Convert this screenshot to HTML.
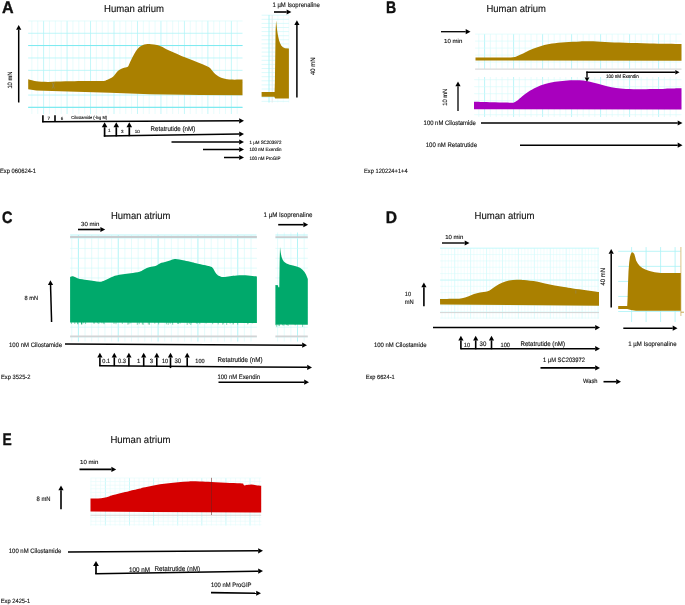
<!DOCTYPE html>
<html><head><meta charset="utf-8"><title>Figure</title>
<style>
html,body{margin:0;padding:0;background:#fff;}
body{width:685px;height:605px;overflow:hidden;font-family:"Liberation Sans",sans-serif;}
svg{display:block;will-change:transform;}
svg text{font-family:"Liberation Sans",sans-serif;text-rendering:geometricPrecision;}
</style></head><body>
<svg width="685" height="605" viewBox="0 0 685 605">
<rect width="685" height="605" fill="#fff"/>
<!-- Panel A -->
<text transform="translate(1.90 12.80) scale(0.09561 0.1)" font-size="168.0" fill="#111" font-weight="bold" stroke="#000" stroke-width="3.5">A</text>
<text transform="translate(104.00 12.20) scale(0.09367 0.1)" font-size="102.0" fill="#111" stroke="#111" stroke-width="1.3">Human atrium</text>
<g><line x1="31.87" y1="20.9" x2="31.87" y2="114" stroke="#d4fafa" stroke-width="0.55"/><line x1="37.74" y1="20.9" x2="37.74" y2="114" stroke="#d4fafa" stroke-width="0.55"/><line x1="43.60" y1="20.9" x2="43.60" y2="114" stroke="#b0f4f7" stroke-width="0.75"/><line x1="49.47" y1="20.9" x2="49.47" y2="114" stroke="#d4fafa" stroke-width="0.55"/><line x1="55.34" y1="20.9" x2="55.34" y2="114" stroke="#d4fafa" stroke-width="0.55"/><line x1="61.20" y1="20.9" x2="61.20" y2="114" stroke="#d4fafa" stroke-width="0.55"/><line x1="67.07" y1="20.9" x2="67.07" y2="114" stroke="#b0f4f7" stroke-width="0.75"/><line x1="72.94" y1="20.9" x2="72.94" y2="114" stroke="#d4fafa" stroke-width="0.55"/><line x1="78.81" y1="20.9" x2="78.81" y2="114" stroke="#d4fafa" stroke-width="0.55"/><line x1="84.67" y1="20.9" x2="84.67" y2="114" stroke="#d4fafa" stroke-width="0.55"/><line x1="90.54" y1="20.9" x2="90.54" y2="114" stroke="#b0f4f7" stroke-width="0.75"/><line x1="96.41" y1="20.9" x2="96.41" y2="114" stroke="#d4fafa" stroke-width="0.55"/><line x1="102.27" y1="20.9" x2="102.27" y2="114" stroke="#d4fafa" stroke-width="0.55"/><line x1="108.14" y1="20.9" x2="108.14" y2="114" stroke="#d4fafa" stroke-width="0.55"/><line x1="114.01" y1="20.9" x2="114.01" y2="114" stroke="#b0f4f7" stroke-width="0.75"/><line x1="119.88" y1="20.9" x2="119.88" y2="114" stroke="#d4fafa" stroke-width="0.55"/><line x1="125.74" y1="20.9" x2="125.74" y2="114" stroke="#d4fafa" stroke-width="0.55"/><line x1="131.61" y1="20.9" x2="131.61" y2="114" stroke="#d4fafa" stroke-width="0.55"/><line x1="137.48" y1="20.9" x2="137.48" y2="114" stroke="#b0f4f7" stroke-width="0.75"/><line x1="143.34" y1="20.9" x2="143.34" y2="114" stroke="#d4fafa" stroke-width="0.55"/><line x1="149.21" y1="20.9" x2="149.21" y2="114" stroke="#d4fafa" stroke-width="0.55"/><line x1="155.08" y1="20.9" x2="155.08" y2="114" stroke="#d4fafa" stroke-width="0.55"/><line x1="160.94" y1="20.9" x2="160.94" y2="114" stroke="#b0f4f7" stroke-width="0.75"/><line x1="166.81" y1="20.9" x2="166.81" y2="114" stroke="#d4fafa" stroke-width="0.55"/><line x1="172.68" y1="20.9" x2="172.68" y2="114" stroke="#d4fafa" stroke-width="0.55"/><line x1="178.54" y1="20.9" x2="178.54" y2="114" stroke="#d4fafa" stroke-width="0.55"/><line x1="184.41" y1="20.9" x2="184.41" y2="114" stroke="#b0f4f7" stroke-width="0.75"/><line x1="190.28" y1="20.9" x2="190.28" y2="114" stroke="#d4fafa" stroke-width="0.55"/><line x1="196.15" y1="20.9" x2="196.15" y2="114" stroke="#d4fafa" stroke-width="0.55"/><line x1="202.01" y1="20.9" x2="202.01" y2="114" stroke="#d4fafa" stroke-width="0.55"/><line x1="207.88" y1="20.9" x2="207.88" y2="114" stroke="#b0f4f7" stroke-width="0.75"/><line x1="213.75" y1="20.9" x2="213.75" y2="114" stroke="#d4fafa" stroke-width="0.55"/><line x1="219.61" y1="20.9" x2="219.61" y2="114" stroke="#d4fafa" stroke-width="0.55"/><line x1="225.48" y1="20.9" x2="225.48" y2="114" stroke="#d4fafa" stroke-width="0.55"/><line x1="231.35" y1="20.9" x2="231.35" y2="114" stroke="#b0f4f7" stroke-width="0.75"/><line x1="237.21" y1="20.9" x2="237.21" y2="114" stroke="#d4fafa" stroke-width="0.55"/><line x1="28.2" y1="33.26" x2="242.5" y2="33.26" stroke="#b0f4f7" stroke-width="0.8"/><line x1="28.2" y1="45.62" x2="242.5" y2="45.62" stroke="#b0f4f7" stroke-width="0.8"/><line x1="28.2" y1="57.98" x2="242.5" y2="57.98" stroke="#b0f4f7" stroke-width="0.8"/><line x1="28.2" y1="70.34" x2="242.5" y2="70.34" stroke="#b0f4f7" stroke-width="0.8"/><line x1="28.2" y1="82.70" x2="242.5" y2="82.70" stroke="#b0f4f7" stroke-width="0.8"/><line x1="28.2" y1="95.06" x2="242.5" y2="95.06" stroke="#b0f4f7" stroke-width="0.8"/><line x1="28.2" y1="107.42" x2="242.5" y2="107.42" stroke="#b0f4f7" stroke-width="0.8"/><line x1="28.2" y1="45.5" x2="242.5" y2="45.5" stroke="#7feaf0" stroke-width="1.2"/><line x1="28.2" y1="107.4" x2="242.5" y2="107.4" stroke="#7feaf0" stroke-width="1.2"/></g>
<line x1="28.20" y1="21.00" x2="242.50" y2="21.00" stroke="#d4fafa" stroke-width="0.6"/>
<path d="M28.20,79.30 C28.83,79.47 30.65,79.98 32.00,80.30 C33.35,80.62 33.63,80.93 36.30,81.20 C38.97,81.47 43.13,81.88 48.00,81.90 C52.87,81.92 58.50,81.45 65.50,81.30 C72.50,81.15 83.68,81.05 90.00,81.00 C96.32,80.95 100.73,81.12 103.40,81.00 C106.07,80.88 105.07,80.63 106.00,80.30 C106.93,79.97 108.00,79.45 109.00,79.00 C110.00,78.55 111.00,78.35 112.00,77.60 C113.00,76.85 114.07,75.57 115.00,74.50 C115.93,73.43 116.77,72.03 117.60,71.20 C118.43,70.37 119.27,69.95 120.00,69.50 C120.73,69.05 121.17,68.83 122.00,68.50 C122.83,68.17 124.03,67.80 125.00,67.50 C125.97,67.20 127.05,67.37 127.80,66.70 C128.55,66.03 128.75,65.02 129.50,63.50 C130.25,61.98 131.47,59.27 132.30,57.60 C133.13,55.93 133.73,54.82 134.50,53.50 C135.27,52.18 136.07,50.78 136.90,49.70 C137.73,48.62 138.57,47.75 139.50,47.00 C140.43,46.25 141.42,45.65 142.50,45.20 C143.58,44.75 144.87,44.50 146.00,44.30 C147.13,44.10 147.97,43.95 149.30,44.00 C150.63,44.05 152.12,44.22 154.00,44.60 C155.88,44.98 157.98,45.27 160.60,46.30 C163.22,47.33 165.55,48.92 169.70,50.80 C173.85,52.68 180.45,55.52 185.50,57.60 C190.55,59.68 196.25,61.78 200.00,63.30 C203.75,64.82 206.25,65.83 208.00,66.70 C209.75,67.57 209.75,67.78 210.50,68.50 C211.25,69.22 211.67,70.05 212.50,71.00 C213.33,71.95 214.53,73.33 215.50,74.20 C216.47,75.07 217.22,75.58 218.30,76.20 C219.38,76.82 220.72,77.43 222.00,77.90 C223.28,78.37 224.55,78.72 226.00,79.00 C227.45,79.28 227.95,79.50 230.70,79.60 C233.45,79.70 240.53,79.60 242.50,79.60 L242.5,95.2 L200.0,95.0 L150.0,94.2 L110.0,92.8 L68.0,91.4 L36.3,90.4 L28.2,89.2Z" fill="#aa8000"/>
<path d="M52.2,82.5 L54.4,88.5 M54.4,82.5 L52.2,88.5" stroke="#8d8a78" stroke-width="0.5" fill="none"/>
<line x1="18.70" y1="102.50" x2="18.70" y2="29.80" stroke="#000" stroke-width="1.5"/>
<path d="M18.70,25.00 L21.30,29.80 L16.10,29.80Z" fill="#000"/>
<text transform="translate(11.80 88.60) rotate(-90) scale(0.09176 0.1)" font-size="62.9" fill="#111" stroke="#111" stroke-width="1.3">10 mN</text>
<g><line x1="277.80" y1="15" x2="277.80" y2="102.6" stroke="#e2fcfc" stroke-width="0.5"/><line x1="283.30" y1="15" x2="283.30" y2="102.6" stroke="#e2fcfc" stroke-width="0.5"/><line x1="288.80" y1="15" x2="288.80" y2="102.6" stroke="#e2fcfc" stroke-width="0.5"/><line x1="261.6" y1="15.20" x2="288.9" y2="15.20" stroke="#c4f7f8" stroke-width="0.6"/><line x1="261.6" y1="19.30" x2="288.9" y2="19.30" stroke="#c4f7f8" stroke-width="0.6"/><line x1="261.6" y1="23.40" x2="288.9" y2="23.40" stroke="#c4f7f8" stroke-width="0.6"/><line x1="261.6" y1="27.50" x2="288.9" y2="27.50" stroke="#c4f7f8" stroke-width="0.6"/><line x1="261.6" y1="31.60" x2="288.9" y2="31.60" stroke="#c4f7f8" stroke-width="0.6"/><line x1="261.6" y1="35.70" x2="288.9" y2="35.70" stroke="#c4f7f8" stroke-width="0.6"/><line x1="261.6" y1="39.80" x2="288.9" y2="39.80" stroke="#c4f7f8" stroke-width="0.6"/><line x1="261.6" y1="43.90" x2="288.9" y2="43.90" stroke="#c4f7f8" stroke-width="0.6"/><line x1="261.6" y1="48.00" x2="288.9" y2="48.00" stroke="#c4f7f8" stroke-width="0.6"/><line x1="261.6" y1="52.10" x2="288.9" y2="52.10" stroke="#c4f7f8" stroke-width="0.6"/><line x1="261.6" y1="56.20" x2="288.9" y2="56.20" stroke="#c4f7f8" stroke-width="0.6"/><line x1="261.6" y1="60.30" x2="288.9" y2="60.30" stroke="#c4f7f8" stroke-width="0.6"/><line x1="261.6" y1="64.40" x2="288.9" y2="64.40" stroke="#c4f7f8" stroke-width="0.6"/><line x1="261.6" y1="68.50" x2="288.9" y2="68.50" stroke="#c4f7f8" stroke-width="0.6"/><line x1="261.6" y1="72.60" x2="288.9" y2="72.60" stroke="#c4f7f8" stroke-width="0.6"/><line x1="261.6" y1="76.70" x2="288.9" y2="76.70" stroke="#c4f7f8" stroke-width="0.6"/><line x1="261.6" y1="80.80" x2="288.9" y2="80.80" stroke="#c4f7f8" stroke-width="0.6"/><line x1="261.6" y1="84.90" x2="288.9" y2="84.90" stroke="#c4f7f8" stroke-width="0.6"/><line x1="261.6" y1="89.00" x2="288.9" y2="89.00" stroke="#c4f7f8" stroke-width="0.6"/><line x1="261.6" y1="93.10" x2="288.9" y2="93.10" stroke="#c4f7f8" stroke-width="0.6"/><line x1="261.6" y1="97.20" x2="288.9" y2="97.20" stroke="#c4f7f8" stroke-width="0.6"/><line x1="261.6" y1="101.30" x2="288.9" y2="101.30" stroke="#c4f7f8" stroke-width="0.6"/></g>
<line x1="269.00" y1="15.00" x2="269.00" y2="102.60" stroke="#a9f3f6" stroke-width="0.9"/>
<line x1="272.20" y1="15.00" x2="272.20" y2="102.60" stroke="#e2e8e9" stroke-width="0.9"/>
<path d="M261.6,92.1 L274.6,92.1 L274.9,82.0 L275.2,60.0 L275.6,30.0 L276.1,20.6 L276.6,25.0 L277.1,30.0 L277.7,34.0 L278.3,37.0 L279.1,40.5 L280.1,43.3 L281.4,45.7 L283.0,47.3 L285.0,48.2 L288.9,48.5 L288.9,98.4 L275.2,98.4 L274.3,96.8 L261.6,96.8Z" fill="#aa8000"/>
<text transform="translate(272.50 6.70) scale(0.09173 0.1)" font-size="64.7" fill="#111" stroke="#111" stroke-width="1.3">1 µM Isoprenaline</text>
<line x1="274.00" y1="12.00" x2="286.60" y2="12.00" stroke="#000" stroke-width="1.6"/>
<path d="M291.40,12.00 L286.60,14.60 L286.60,9.40Z" fill="#000"/>
<line x1="296.90" y1="97.50" x2="296.90" y2="25.00" stroke="#000" stroke-width="1.5"/>
<path d="M296.90,20.20 L299.50,25.00 L294.30,25.00Z" fill="#000"/>
<text transform="translate(315.20 75.00) rotate(-90) scale(0.09169 0.1)" font-size="64.8" fill="#111" stroke="#111" stroke-width="1.3">40 mN</text>
<line x1="42.90" y1="115.20" x2="42.90" y2="122.20" stroke="#000" stroke-width="1.6"/>
<line x1="55.00" y1="115.20" x2="55.00" y2="122.00" stroke="#000" stroke-width="1.6"/>
<line x1="42.10" y1="121.80" x2="239.20" y2="120.82" stroke="#000" stroke-width="1.5"/>
<path d="M244.00,120.80 L239.21,123.42 L239.19,118.22Z" fill="#000"/>
<text transform="translate(47.50 119.50) scale(0.10000 0.1)" font-size="45.0" fill="#111" stroke="#111" stroke-width="1.3">7</text>
<text transform="translate(60.70 119.50) scale(0.10000 0.1)" font-size="45.0" fill="#111" stroke="#111" stroke-width="1.3">6</text>
<text transform="translate(71.30 119.20) scale(0.09178 0.1)" font-size="43.6" fill="#111" stroke="#111" stroke-width="1.3">Cilostamide (-log M)</text>
<line x1="104.60" y1="136.60" x2="104.60" y2="127.20" stroke="#000" stroke-width="1.7"/>
<path d="M104.60,122.20 L107.40,127.20 L101.80,127.20Z" fill="#000"/>
<line x1="116.30" y1="136.40" x2="116.30" y2="127.20" stroke="#000" stroke-width="1.7"/>
<path d="M116.30,122.20 L119.10,127.20 L113.50,127.20Z" fill="#000"/>
<line x1="129.30" y1="136.20" x2="129.30" y2="127.20" stroke="#000" stroke-width="1.7"/>
<path d="M129.30,122.20 L132.10,127.20 L126.50,127.20Z" fill="#000"/>
<line x1="103.80" y1="136.10" x2="239.20" y2="134.07" stroke="#000" stroke-width="1.5"/>
<path d="M244.00,134.00 L239.24,136.67 L239.16,131.47Z" fill="#000"/>
<text transform="translate(107.90 132.10) scale(0.10000 0.1)" font-size="45.0" fill="#111" stroke="#111" stroke-width="1.3">1</text>
<text transform="translate(120.90 132.90) scale(0.10000 0.1)" font-size="45.0" fill="#111" stroke="#111" stroke-width="1.3">3</text>
<text transform="translate(134.80 132.90) scale(0.10000 0.1)" font-size="45.0" fill="#111" stroke="#111" stroke-width="1.3">10</text>
<text transform="translate(150.60 131.40) scale(0.09173 0.1)" font-size="67.3" fill="#111" stroke="#111" stroke-width="1.3">Retatrutide (nM)</text>
<line x1="171.50" y1="142.00" x2="239.20" y2="142.00" stroke="#000" stroke-width="1.5"/>
<path d="M244.00,142.00 L239.20,144.60 L239.20,139.40Z" fill="#000"/>
<text transform="translate(249.50 143.60) scale(0.09180 0.1)" font-size="48.1" fill="#111" stroke="#111" stroke-width="1.3">1 µM SC203972</text>
<line x1="203.00" y1="149.50" x2="239.20" y2="149.50" stroke="#000" stroke-width="1.5"/>
<path d="M244.00,149.50 L239.20,152.10 L239.20,146.90Z" fill="#000"/>
<text transform="translate(249.50 151.20) scale(0.09167 0.1)" font-size="48.3" fill="#111" stroke="#111" stroke-width="1.3">100 nM Exendin</text>
<line x1="224.00" y1="157.50" x2="239.20" y2="157.50" stroke="#000" stroke-width="1.5"/>
<path d="M244.00,157.50 L239.20,160.10 L239.20,154.90Z" fill="#000"/>
<text transform="translate(249.50 159.70) scale(0.09179 0.1)" font-size="49.0" fill="#111" stroke="#111" stroke-width="1.3">100 nM ProGIP</text>
<text transform="translate(0.00 173.40) scale(0.09176 0.1)" font-size="63.0" fill="#111" stroke="#111" stroke-width="1.3">Exp 060624-1</text>
<!-- Panel B -->
<text transform="translate(386.00 12.80) scale(0.08407 0.1)" font-size="168.0" fill="#111" font-weight="bold" stroke="#000" stroke-width="3.5">B</text>
<text transform="translate(486.50 11.60) scale(0.09289 0.1)" font-size="102.0" fill="#111" stroke="#111" stroke-width="1.3">Human atrium</text>
<line x1="441.00" y1="31.70" x2="465.70" y2="31.70" stroke="#000" stroke-width="1.3"/>
<path d="M470.50,31.70 L465.70,34.30 L465.70,29.10Z" fill="#000"/>
<text transform="translate(444.00 43.00) scale(0.10334 0.1)" font-size="59.0" fill="#111" stroke="#111" stroke-width="1.3">10 min</text>
<g><line x1="478.80" y1="34.1" x2="478.80" y2="69" stroke="#d4fafa" stroke-width="0.55"/><line x1="484.60" y1="34.1" x2="484.60" y2="69" stroke="#a9f3f6" stroke-width="0.8"/><line x1="490.40" y1="34.1" x2="490.40" y2="69" stroke="#d4fafa" stroke-width="0.55"/><line x1="496.20" y1="34.1" x2="496.20" y2="69" stroke="#d4fafa" stroke-width="0.55"/><line x1="502.00" y1="34.1" x2="502.00" y2="69" stroke="#d4fafa" stroke-width="0.55"/><line x1="507.80" y1="34.1" x2="507.80" y2="69" stroke="#d4fafa" stroke-width="0.55"/><line x1="513.60" y1="34.1" x2="513.60" y2="69" stroke="#a9f3f6" stroke-width="0.8"/><line x1="519.40" y1="34.1" x2="519.40" y2="69" stroke="#d4fafa" stroke-width="0.55"/><line x1="525.20" y1="34.1" x2="525.20" y2="69" stroke="#d4fafa" stroke-width="0.55"/><line x1="531.00" y1="34.1" x2="531.00" y2="69" stroke="#d4fafa" stroke-width="0.55"/><line x1="536.80" y1="34.1" x2="536.80" y2="69" stroke="#d4fafa" stroke-width="0.55"/><line x1="542.60" y1="34.1" x2="542.60" y2="69" stroke="#a9f3f6" stroke-width="0.8"/><line x1="548.40" y1="34.1" x2="548.40" y2="69" stroke="#d4fafa" stroke-width="0.55"/><line x1="554.20" y1="34.1" x2="554.20" y2="69" stroke="#d4fafa" stroke-width="0.55"/><line x1="560.00" y1="34.1" x2="560.00" y2="69" stroke="#d4fafa" stroke-width="0.55"/><line x1="565.80" y1="34.1" x2="565.80" y2="69" stroke="#d4fafa" stroke-width="0.55"/><line x1="571.60" y1="34.1" x2="571.60" y2="69" stroke="#a9f3f6" stroke-width="0.8"/><line x1="577.40" y1="34.1" x2="577.40" y2="69" stroke="#d4fafa" stroke-width="0.55"/><line x1="583.20" y1="34.1" x2="583.20" y2="69" stroke="#d4fafa" stroke-width="0.55"/><line x1="589.00" y1="34.1" x2="589.00" y2="69" stroke="#d4fafa" stroke-width="0.55"/><line x1="594.80" y1="34.1" x2="594.80" y2="69" stroke="#d4fafa" stroke-width="0.55"/><line x1="600.60" y1="34.1" x2="600.60" y2="69" stroke="#a9f3f6" stroke-width="0.8"/><line x1="606.40" y1="34.1" x2="606.40" y2="69" stroke="#d4fafa" stroke-width="0.55"/><line x1="612.20" y1="34.1" x2="612.20" y2="69" stroke="#d4fafa" stroke-width="0.55"/><line x1="618.00" y1="34.1" x2="618.00" y2="69" stroke="#d4fafa" stroke-width="0.55"/><line x1="623.80" y1="34.1" x2="623.80" y2="69" stroke="#d4fafa" stroke-width="0.55"/><line x1="629.60" y1="34.1" x2="629.60" y2="69" stroke="#a9f3f6" stroke-width="0.8"/><line x1="635.40" y1="34.1" x2="635.40" y2="69" stroke="#d4fafa" stroke-width="0.55"/><line x1="641.20" y1="34.1" x2="641.20" y2="69" stroke="#d4fafa" stroke-width="0.55"/><line x1="647.00" y1="34.1" x2="647.00" y2="69" stroke="#d4fafa" stroke-width="0.55"/><line x1="652.80" y1="34.1" x2="652.80" y2="69" stroke="#d4fafa" stroke-width="0.55"/><line x1="658.60" y1="34.1" x2="658.60" y2="69" stroke="#a9f3f6" stroke-width="0.8"/><line x1="664.40" y1="34.1" x2="664.40" y2="69" stroke="#d4fafa" stroke-width="0.55"/><line x1="670.20" y1="34.1" x2="670.20" y2="69" stroke="#d4fafa" stroke-width="0.55"/><line x1="676.00" y1="34.1" x2="676.00" y2="69" stroke="#d4fafa" stroke-width="0.55"/><line x1="475.1" y1="34.10" x2="681.5" y2="34.10" stroke="#d4fafa" stroke-width="0.6"/><line x1="475.1" y1="41.10" x2="681.5" y2="41.10" stroke="#d4fafa" stroke-width="0.6"/><line x1="475.1" y1="48.10" x2="681.5" y2="48.10" stroke="#d4fafa" stroke-width="0.6"/><line x1="475.1" y1="55.10" x2="681.5" y2="55.10" stroke="#d4fafa" stroke-width="0.6"/><line x1="475.1" y1="62.10" x2="681.5" y2="62.10" stroke="#d4fafa" stroke-width="0.6"/></g>
<line x1="475.10" y1="69.20" x2="681.50" y2="69.20" stroke="#dadada" stroke-width="1.2"/>
<path d="M475.50,57.50 C479.58,57.52 493.75,57.63 500.00,57.60 C506.25,57.57 510.00,57.60 513.00,57.30 C516.00,57.00 516.00,56.60 518.00,55.80 C520.00,55.00 522.50,53.67 525.00,52.50 C527.50,51.33 530.17,49.93 533.00,48.80 C535.83,47.67 538.83,46.57 542.00,45.70 C545.17,44.83 548.17,44.18 552.00,43.60 C555.83,43.02 560.33,42.57 565.00,42.20 C569.67,41.83 575.83,41.55 580.00,41.40 C584.17,41.25 585.83,41.20 590.00,41.30 C594.17,41.40 599.17,41.75 605.00,42.00 C610.83,42.25 617.50,42.55 625.00,42.80 C632.50,43.05 640.58,43.30 650.00,43.50 C659.42,43.70 676.25,43.92 681.50,44.00 L681.5,60.8 L475.5,60.5Z" fill="#aa8000"/>
<g><line x1="478.80" y1="77" x2="478.80" y2="117" stroke="#d4fafa" stroke-width="0.55"/><line x1="484.60" y1="77" x2="484.60" y2="117" stroke="#a9f3f6" stroke-width="0.8"/><line x1="490.40" y1="77" x2="490.40" y2="117" stroke="#d4fafa" stroke-width="0.55"/><line x1="496.20" y1="77" x2="496.20" y2="117" stroke="#d4fafa" stroke-width="0.55"/><line x1="502.00" y1="77" x2="502.00" y2="117" stroke="#d4fafa" stroke-width="0.55"/><line x1="507.80" y1="77" x2="507.80" y2="117" stroke="#d4fafa" stroke-width="0.55"/><line x1="513.60" y1="77" x2="513.60" y2="117" stroke="#a9f3f6" stroke-width="0.8"/><line x1="519.40" y1="77" x2="519.40" y2="117" stroke="#d4fafa" stroke-width="0.55"/><line x1="525.20" y1="77" x2="525.20" y2="117" stroke="#d4fafa" stroke-width="0.55"/><line x1="531.00" y1="77" x2="531.00" y2="117" stroke="#d4fafa" stroke-width="0.55"/><line x1="536.80" y1="77" x2="536.80" y2="117" stroke="#d4fafa" stroke-width="0.55"/><line x1="542.60" y1="77" x2="542.60" y2="117" stroke="#a9f3f6" stroke-width="0.8"/><line x1="548.40" y1="77" x2="548.40" y2="117" stroke="#d4fafa" stroke-width="0.55"/><line x1="554.20" y1="77" x2="554.20" y2="117" stroke="#d4fafa" stroke-width="0.55"/><line x1="560.00" y1="77" x2="560.00" y2="117" stroke="#d4fafa" stroke-width="0.55"/><line x1="565.80" y1="77" x2="565.80" y2="117" stroke="#d4fafa" stroke-width="0.55"/><line x1="571.60" y1="77" x2="571.60" y2="117" stroke="#a9f3f6" stroke-width="0.8"/><line x1="577.40" y1="77" x2="577.40" y2="117" stroke="#d4fafa" stroke-width="0.55"/><line x1="583.20" y1="77" x2="583.20" y2="117" stroke="#d4fafa" stroke-width="0.55"/><line x1="589.00" y1="77" x2="589.00" y2="117" stroke="#d4fafa" stroke-width="0.55"/><line x1="594.80" y1="77" x2="594.80" y2="117" stroke="#d4fafa" stroke-width="0.55"/><line x1="600.60" y1="77" x2="600.60" y2="117" stroke="#a9f3f6" stroke-width="0.8"/><line x1="606.40" y1="77" x2="606.40" y2="117" stroke="#d4fafa" stroke-width="0.55"/><line x1="612.20" y1="77" x2="612.20" y2="117" stroke="#d4fafa" stroke-width="0.55"/><line x1="618.00" y1="77" x2="618.00" y2="117" stroke="#d4fafa" stroke-width="0.55"/><line x1="623.80" y1="77" x2="623.80" y2="117" stroke="#d4fafa" stroke-width="0.55"/><line x1="629.60" y1="77" x2="629.60" y2="117" stroke="#a9f3f6" stroke-width="0.8"/><line x1="635.40" y1="77" x2="635.40" y2="117" stroke="#d4fafa" stroke-width="0.55"/><line x1="641.20" y1="77" x2="641.20" y2="117" stroke="#d4fafa" stroke-width="0.55"/><line x1="647.00" y1="77" x2="647.00" y2="117" stroke="#d4fafa" stroke-width="0.55"/><line x1="652.80" y1="77" x2="652.80" y2="117" stroke="#d4fafa" stroke-width="0.55"/><line x1="658.60" y1="77" x2="658.60" y2="117" stroke="#a9f3f6" stroke-width="0.8"/><line x1="664.40" y1="77" x2="664.40" y2="117" stroke="#d4fafa" stroke-width="0.55"/><line x1="670.20" y1="77" x2="670.20" y2="117" stroke="#d4fafa" stroke-width="0.55"/><line x1="676.00" y1="77" x2="676.00" y2="117" stroke="#d4fafa" stroke-width="0.55"/><line x1="474.2" y1="79.70" x2="681.5" y2="79.70" stroke="#d4fafa" stroke-width="0.6"/><line x1="474.2" y1="86.70" x2="681.5" y2="86.70" stroke="#d4fafa" stroke-width="0.6"/><line x1="474.2" y1="93.70" x2="681.5" y2="93.70" stroke="#d4fafa" stroke-width="0.6"/><line x1="474.2" y1="100.70" x2="681.5" y2="100.70" stroke="#d4fafa" stroke-width="0.6"/><line x1="474.2" y1="107.70" x2="681.5" y2="107.70" stroke="#d4fafa" stroke-width="0.6"/><line x1="474.2" y1="114.70" x2="681.5" y2="114.70" stroke="#d4fafa" stroke-width="0.6"/></g>
<path d="M474.00,101.70 C477.50,101.80 489.00,102.13 495.00,102.30 C501.00,102.47 506.83,102.68 510.00,102.70 C513.17,102.72 512.83,102.72 514.00,102.40 C515.17,102.08 515.67,101.78 517.00,100.80 C518.33,99.82 520.17,97.97 522.00,96.50 C523.83,95.03 525.67,93.50 528.00,92.00 C530.33,90.50 533.17,88.83 536.00,87.50 C538.83,86.17 541.83,84.95 545.00,84.00 C548.17,83.05 551.67,82.35 555.00,81.80 C558.33,81.25 561.67,80.95 565.00,80.70 C568.33,80.45 572.00,80.32 575.00,80.30 C578.00,80.28 580.50,80.37 583.00,80.60 C585.50,80.83 587.50,81.18 590.00,81.70 C592.50,82.22 595.17,82.95 598.00,83.70 C600.83,84.45 604.00,85.48 607.00,86.20 C610.00,86.92 612.83,87.53 616.00,88.00 C619.17,88.47 621.67,88.80 626.00,89.00 C630.33,89.20 636.33,89.18 642.00,89.20 C647.67,89.22 655.42,89.20 660.00,89.10 C664.58,89.00 665.92,88.73 669.50,88.60 C673.08,88.47 679.50,88.35 681.50,88.30 L681.5,109.6 L474.0,109.3Z" fill="#a800be"/>
<line x1="586.30" y1="72.30" x2="675.30" y2="72.30" stroke="#000" stroke-width="1.4"/>
<path d="M679.50,72.30 L675.30,74.60 L675.30,70.00Z" fill="#000"/>
<line x1="587.00" y1="71.60" x2="587.00" y2="77.50" stroke="#000" stroke-width="1.4"/>
<path d="M587.00,81.70 L584.60,77.50 L589.40,77.50Z" fill="#000"/>
<text transform="translate(606.00 77.80) scale(0.09168 0.1)" font-size="49.5" fill="#111" stroke="#111" stroke-width="1.3">100 nM Exendin</text>
<line x1="458.00" y1="111.00" x2="458.00" y2="86.30" stroke="#000" stroke-width="1.3"/>
<path d="M458.00,81.50 L460.60,86.30 L455.40,86.30Z" fill="#000"/>
<text transform="translate(447.20 105.80) rotate(-90) scale(0.09176 0.1)" font-size="62.9" fill="#111" stroke="#111" stroke-width="1.3">10 mN</text>
<text transform="translate(423.60 124.90) scale(0.09175 0.1)" font-size="64.5" fill="#111" stroke="#111" stroke-width="1.3">100 nM Cilostamide</text>
<line x1="481.00" y1="123.00" x2="677.70" y2="123.00" stroke="#000" stroke-width="1.5"/>
<path d="M682.50,123.00 L677.70,125.60 L677.70,120.40Z" fill="#000"/>
<text transform="translate(425.70 147.10) scale(0.09181 0.1)" font-size="65.7" fill="#111" stroke="#111" stroke-width="1.3">100 nM Retatrutide</text>
<line x1="520.00" y1="145.20" x2="677.70" y2="145.20" stroke="#000" stroke-width="1.5"/>
<path d="M682.50,145.20 L677.70,147.80 L677.70,142.60Z" fill="#000"/>
<text transform="translate(364.00 172.90) scale(0.09172 0.1)" font-size="62.4" fill="#111" stroke="#111" stroke-width="1.3">Exp 120224+1+4</text>
<!-- Panel C -->
<text transform="translate(2.00 223.00) scale(0.08572 0.1)" font-size="168.0" fill="#111" font-weight="bold" stroke="#000" stroke-width="3.5">C</text>
<text transform="translate(111.00 219.20) scale(0.09289 0.1)" font-size="102.0" fill="#111" stroke="#111" stroke-width="1.3">Human atrium</text>
<text transform="translate(81.00 226.10) scale(0.10334 0.1)" font-size="59.0" fill="#111" stroke="#111" stroke-width="1.3">30 min</text>
<line x1="78.00" y1="229.50" x2="100.40" y2="229.50" stroke="#000" stroke-width="1.6"/>
<path d="M105.20,229.50 L100.40,232.10 L100.40,226.90Z" fill="#000"/>
<g><line x1="71.76" y1="235" x2="71.76" y2="341.6" stroke="#cdf9f9" stroke-width="0.55"/><line x1="78.40" y1="235" x2="78.40" y2="341.6" stroke="#9ef1f5" stroke-width="0.8"/><line x1="85.04" y1="235" x2="85.04" y2="341.6" stroke="#cdf9f9" stroke-width="0.55"/><line x1="91.68" y1="235" x2="91.68" y2="341.6" stroke="#cdf9f9" stroke-width="0.55"/><line x1="98.32" y1="235" x2="98.32" y2="341.6" stroke="#cdf9f9" stroke-width="0.55"/><line x1="104.96" y1="235" x2="104.96" y2="341.6" stroke="#cdf9f9" stroke-width="0.55"/><line x1="111.60" y1="235" x2="111.60" y2="341.6" stroke="#cdf9f9" stroke-width="0.55"/><line x1="118.24" y1="235" x2="118.24" y2="341.6" stroke="#9ef1f5" stroke-width="0.8"/><line x1="124.88" y1="235" x2="124.88" y2="341.6" stroke="#cdf9f9" stroke-width="0.55"/><line x1="131.52" y1="235" x2="131.52" y2="341.6" stroke="#cdf9f9" stroke-width="0.55"/><line x1="138.16" y1="235" x2="138.16" y2="341.6" stroke="#cdf9f9" stroke-width="0.55"/><line x1="144.80" y1="235" x2="144.80" y2="341.6" stroke="#cdf9f9" stroke-width="0.55"/><line x1="151.44" y1="235" x2="151.44" y2="341.6" stroke="#cdf9f9" stroke-width="0.55"/><line x1="158.08" y1="235" x2="158.08" y2="341.6" stroke="#9ef1f5" stroke-width="0.8"/><line x1="164.72" y1="235" x2="164.72" y2="341.6" stroke="#cdf9f9" stroke-width="0.55"/><line x1="171.36" y1="235" x2="171.36" y2="341.6" stroke="#cdf9f9" stroke-width="0.55"/><line x1="178.00" y1="235" x2="178.00" y2="341.6" stroke="#cdf9f9" stroke-width="0.55"/><line x1="184.64" y1="235" x2="184.64" y2="341.6" stroke="#cdf9f9" stroke-width="0.55"/><line x1="191.28" y1="235" x2="191.28" y2="341.6" stroke="#cdf9f9" stroke-width="0.55"/><line x1="197.92" y1="235" x2="197.92" y2="341.6" stroke="#9ef1f5" stroke-width="0.8"/><line x1="204.56" y1="235" x2="204.56" y2="341.6" stroke="#cdf9f9" stroke-width="0.55"/><line x1="211.20" y1="235" x2="211.20" y2="341.6" stroke="#cdf9f9" stroke-width="0.55"/><line x1="217.84" y1="235" x2="217.84" y2="341.6" stroke="#cdf9f9" stroke-width="0.55"/><line x1="224.48" y1="235" x2="224.48" y2="341.6" stroke="#cdf9f9" stroke-width="0.55"/><line x1="231.12" y1="235" x2="231.12" y2="341.6" stroke="#cdf9f9" stroke-width="0.55"/><line x1="237.76" y1="235" x2="237.76" y2="341.6" stroke="#9ef1f5" stroke-width="0.8"/><line x1="244.40" y1="235" x2="244.40" y2="341.6" stroke="#cdf9f9" stroke-width="0.55"/><line x1="251.04" y1="235" x2="251.04" y2="341.6" stroke="#cdf9f9" stroke-width="0.55"/><line x1="70.1" y1="238.55" x2="256.9" y2="238.55" stroke="#cdf9f9" stroke-width="0.6"/><line x1="70.1" y1="248.40" x2="256.9" y2="248.40" stroke="#cdf9f9" stroke-width="0.6"/><line x1="70.1" y1="258.25" x2="256.9" y2="258.25" stroke="#cdf9f9" stroke-width="0.6"/><line x1="70.1" y1="268.10" x2="256.9" y2="268.10" stroke="#cdf9f9" stroke-width="0.6"/><line x1="70.1" y1="277.95" x2="256.9" y2="277.95" stroke="#cdf9f9" stroke-width="0.6"/><line x1="70.1" y1="287.80" x2="256.9" y2="287.80" stroke="#cdf9f9" stroke-width="0.6"/><line x1="70.1" y1="297.65" x2="256.9" y2="297.65" stroke="#cdf9f9" stroke-width="0.6"/><line x1="70.1" y1="307.50" x2="256.9" y2="307.50" stroke="#cdf9f9" stroke-width="0.6"/><line x1="70.1" y1="317.35" x2="256.9" y2="317.35" stroke="#cdf9f9" stroke-width="0.6"/><line x1="70.1" y1="327.20" x2="256.9" y2="327.20" stroke="#cdf9f9" stroke-width="0.6"/><line x1="70.1" y1="337.05" x2="256.9" y2="337.05" stroke="#cdf9f9" stroke-width="0.6"/></g>
<line x1="70.10" y1="235.00" x2="256.50" y2="235.00" stroke="#a9f3f6" stroke-width="0.8"/>
<line x1="70.10" y1="237.00" x2="256.90" y2="237.00" stroke="#c9cdd0" stroke-width="1.8"/>
<line x1="70.10" y1="336.40" x2="256.90" y2="336.40" stroke="#d2d4d5" stroke-width="1.8"/>
<path d="M70.10,276.90 C70.58,276.78 72.10,276.15 73.00,276.20 C73.90,276.25 74.65,276.83 75.50,277.20 C76.35,277.57 76.20,277.92 78.10,278.40 C80.00,278.88 84.25,279.67 86.90,280.10 C89.55,280.53 91.82,280.73 94.00,281.00 C96.18,281.27 98.25,281.80 100.00,281.70 C101.75,281.60 103.03,280.95 104.50,280.40 C105.97,279.85 107.47,279.02 108.80,278.40 C110.13,277.78 111.28,277.20 112.50,276.70 C113.72,276.20 114.35,275.82 116.10,275.40 C117.85,274.98 120.57,274.55 123.00,274.20 C125.43,273.85 127.95,273.70 130.70,273.30 C133.45,272.90 137.45,272.35 139.50,271.80 C141.55,271.25 141.78,270.62 143.00,270.00 C144.22,269.38 145.63,268.60 146.80,268.10 C147.97,267.60 148.55,267.35 150.00,267.00 C151.45,266.65 154.08,266.45 155.50,266.00 C156.92,265.55 157.52,264.85 158.50,264.30 C159.48,263.75 160.32,263.10 161.40,262.70 C162.48,262.30 163.57,262.28 165.00,261.90 C166.43,261.52 168.37,260.88 170.00,260.40 C171.63,259.92 173.22,259.15 174.80,259.00 C176.38,258.85 177.88,259.25 179.50,259.50 C181.12,259.75 182.42,260.03 184.50,260.50 C186.58,260.97 189.75,261.75 192.00,262.30 C194.25,262.85 195.07,263.13 198.00,263.80 C200.93,264.47 207.18,265.65 209.60,266.30 C212.02,266.95 211.77,267.08 212.50,267.70 C213.23,268.32 213.52,269.20 214.00,270.00 C214.48,270.80 214.85,271.70 215.40,272.50 C215.95,273.30 216.65,274.22 217.30,274.80 C217.95,275.38 218.32,275.63 219.30,276.00 C220.28,276.37 221.42,276.97 223.20,277.00 C224.98,277.03 227.75,276.47 230.00,276.20 C232.25,275.93 233.70,275.53 236.70,275.40 C239.70,275.27 244.63,275.23 248.00,275.40 C251.37,275.57 255.42,276.23 256.90,276.40 L256.9,322.9 L70.1,322.4Z" fill="#00a96b"/>
<path d="M130.8,322.1v1.3M191.5,322.1v1.1M170.2,322.1v1.7M81.4,322.1v2.0M77.6,322.1v1.8M83.6,322.1v1.2M149.5,322.1v2.6M93.6,322.1v1.4M187.2,322.1v2.8M177.8,322.1v1.8M252.0,322.1v1.1M230.1,322.1v1.6M97.4,322.1v1.2M127.9,322.1v2.6M104.2,322.1v2.1M189.3,322.1v1.7M172.4,322.1v1.1M81.7,322.1v1.4M197.0,322.1v1.8M129.0,322.1v2.1M154.8,322.1v1.6M218.2,322.1v2.3M116.0,322.1v2.1M168.2,322.1v2.7M206.1,322.1v1.5M252.7,322.1v1.2M148.3,322.1v2.4M98.8,322.1v1.9M77.9,322.1v2.3M212.7,322.1v2.1M233.3,322.1v1.6M199.8,322.1v2.1M178.3,322.1v1.9M226.7,322.1v2.8M158.7,322.1v2.3M81.9,322.1v2.3M190.8,322.1v2.9M223.3,322.1v1.5M142.3,322.1v2.3M74.8,322.1v1.9M101.8,322.1v1.2M81.6,322.1v2.5M94.6,322.1v1.5M143.2,322.1v2.7M85.6,322.1v1.9M172.7,322.1v2.7M222.8,322.1v2.6M122.3,322.1v1.8M137.3,322.1v2.7M248.5,322.1v1.3M103.3,322.1v1.4M114.0,322.1v1.9M180.1,322.1v1.5M71.4,322.1v1.8M139.2,322.1v2.1M247.7,322.1v2.3M166.4,322.1v2.2M196.2,322.1v1.1M237.7,322.1v2.5M233.1,322.1v2.5" stroke="#00a96b" stroke-width="0.5" fill="none"/>
<g><line x1="277.60" y1="232.5" x2="277.60" y2="341.6" stroke="#cdf9f9" stroke-width="0.55"/><line x1="284.24" y1="232.5" x2="284.24" y2="341.6" stroke="#cdf9f9" stroke-width="0.55"/><line x1="290.88" y1="232.5" x2="290.88" y2="341.6" stroke="#cdf9f9" stroke-width="0.55"/><line x1="297.52" y1="232.5" x2="297.52" y2="341.6" stroke="#9ef1f5" stroke-width="0.8"/><line x1="304.16" y1="232.5" x2="304.16" y2="341.6" stroke="#cdf9f9" stroke-width="0.55"/><line x1="275.4" y1="238.55" x2="307.8" y2="238.55" stroke="#cdf9f9" stroke-width="0.6"/><line x1="275.4" y1="248.40" x2="307.8" y2="248.40" stroke="#cdf9f9" stroke-width="0.6"/><line x1="275.4" y1="258.25" x2="307.8" y2="258.25" stroke="#cdf9f9" stroke-width="0.6"/><line x1="275.4" y1="268.10" x2="307.8" y2="268.10" stroke="#cdf9f9" stroke-width="0.6"/><line x1="275.4" y1="277.95" x2="307.8" y2="277.95" stroke="#cdf9f9" stroke-width="0.6"/><line x1="275.4" y1="287.80" x2="307.8" y2="287.80" stroke="#cdf9f9" stroke-width="0.6"/><line x1="275.4" y1="297.65" x2="307.8" y2="297.65" stroke="#cdf9f9" stroke-width="0.6"/><line x1="275.4" y1="307.50" x2="307.8" y2="307.50" stroke="#cdf9f9" stroke-width="0.6"/><line x1="275.4" y1="317.35" x2="307.8" y2="317.35" stroke="#cdf9f9" stroke-width="0.6"/><line x1="275.4" y1="327.20" x2="307.8" y2="327.20" stroke="#cdf9f9" stroke-width="0.6"/><line x1="275.4" y1="337.05" x2="307.8" y2="337.05" stroke="#cdf9f9" stroke-width="0.6"/></g>
<line x1="275.40" y1="235.00" x2="307.80" y2="235.00" stroke="#a9f3f6" stroke-width="0.8"/>
<line x1="275.40" y1="237.20" x2="307.80" y2="237.20" stroke="#c9cdd0" stroke-width="1.8"/>
<line x1="275.40" y1="336.40" x2="307.80" y2="336.40" stroke="#d2d4d5" stroke-width="1.8"/>
<path d="M275.4,284.9 L278.0,285.2 L278.3,287.3 L279.3,287.3 L279.6,262.0 L280.0,247.1 L280.7,252.5 L281.6,257.1 L282.7,259.8 L284.0,261.7 L286.5,263.5 L289.7,264.7 L293.0,265.5 L296.7,266.4 L300.0,267.8 L302.5,269.8 L304.5,272.0 L306.0,274.5 L307.8,279.1 L307.8,324.7 L275.4,324.4Z" fill="#00a96b"/>
<path d="M288.2,324.0v1.8M279.2,324.0v2.2M277.9,324.0v1.1M282.5,324.0v1.3M286.6,324.0v1.1M275.9,324.0v1.3M279.1,324.0v1.7M276.7,324.0v2.7M295.2,324.0v1.3M283.8,324.0v1.7M287.3,324.0v1.2M302.6,324.0v2.9" stroke="#00a96b" stroke-width="0.5" fill="none"/>
<text transform="translate(263.50 217.00) scale(0.09177 0.1)" font-size="67.0" fill="#111" stroke="#111" stroke-width="1.3">1 µM Isoprenaline</text>
<line x1="278.20" y1="224.70" x2="303.40" y2="224.70" stroke="#000" stroke-width="1.6"/>
<path d="M308.20,224.70 L303.40,227.30 L303.40,222.10Z" fill="#000"/>
<line x1="51.60" y1="322.00" x2="50.54" y2="285.00" stroke="#000" stroke-width="1.5"/>
<path d="M50.40,280.20 L53.14,284.92 L47.94,285.07Z" fill="#000"/>
<text transform="translate(24.50 299.90) scale(0.09173 0.1)" font-size="61.6" fill="#111" stroke="#111" stroke-width="1.3">8 mN</text>
<text transform="translate(9.00 347.00) scale(0.09170 0.1)" font-size="65.4" fill="#111" stroke="#111" stroke-width="1.3">100 nM Cilostamide</text>
<line x1="65.00" y1="344.00" x2="302.20" y2="345.18" stroke="#000" stroke-width="1.5"/>
<path d="M307.00,345.20 L302.19,347.78 L302.21,342.58Z" fill="#000"/>
<line x1="99.90" y1="366.00" x2="99.90" y2="357.40" stroke="#000" stroke-width="1.6"/>
<path d="M99.90,352.80 L102.50,357.40 L97.30,357.40Z" fill="#000"/>
<line x1="114.30" y1="366.10" x2="114.30" y2="357.40" stroke="#000" stroke-width="1.6"/>
<path d="M114.30,352.80 L116.90,357.40 L111.70,357.40Z" fill="#000"/>
<line x1="128.90" y1="366.21" x2="128.90" y2="357.40" stroke="#000" stroke-width="1.6"/>
<path d="M128.90,352.80 L131.50,357.40 L126.30,357.40Z" fill="#000"/>
<line x1="143.70" y1="366.31" x2="143.70" y2="357.40" stroke="#000" stroke-width="1.6"/>
<path d="M143.70,352.80 L146.30,357.40 L141.10,357.40Z" fill="#000"/>
<line x1="156.80" y1="366.40" x2="156.80" y2="357.40" stroke="#000" stroke-width="1.6"/>
<path d="M156.80,352.80 L159.40,357.40 L154.20,357.40Z" fill="#000"/>
<line x1="170.50" y1="368.10" x2="170.50" y2="357.40" stroke="#000" stroke-width="1.6"/>
<path d="M170.50,352.80 L173.10,357.40 L167.90,357.40Z" fill="#000"/>
<line x1="187.20" y1="366.61" x2="187.20" y2="357.40" stroke="#000" stroke-width="1.6"/>
<path d="M187.20,352.80 L189.80,357.40 L184.60,357.40Z" fill="#000"/>
<line x1="99.10" y1="365.80" x2="307.20" y2="367.36" stroke="#000" stroke-width="1.5"/>
<path d="M312.00,367.40 L307.18,369.96 L307.22,364.76Z" fill="#000"/>
<text transform="translate(102.30 362.50) scale(0.09168 0.1)" font-size="61.2" fill="#111" stroke="#111" stroke-width="1.3">0.1</text>
<text transform="translate(118.00 362.50) scale(0.09178 0.1)" font-size="62.7" fill="#111" stroke="#111" stroke-width="1.3">0.3</text>
<text transform="translate(137.00 362.50) scale(0.10000 0.1)" font-size="60.0" fill="#111" stroke="#111" stroke-width="1.3">1</text>
<text transform="translate(149.70 362.50) scale(0.10000 0.1)" font-size="60.0" fill="#111" stroke="#111" stroke-width="1.3">3</text>
<text transform="translate(161.90 362.50) scale(0.09167 0.1)" font-size="60.8" fill="#111" stroke="#111" stroke-width="1.3">10</text>
<text transform="translate(174.40 362.50) scale(0.09179 0.1)" font-size="66.6" fill="#111" stroke="#111" stroke-width="1.3">30</text>
<text transform="translate(195.30 362.50) scale(0.09167 0.1)" font-size="60.8" fill="#111" stroke="#111" stroke-width="1.3">100</text>
<text transform="translate(217.50 361.70) scale(0.09173 0.1)" font-size="67.9" fill="#111" stroke="#111" stroke-width="1.3">Retatrutide (nM)</text>
<text transform="translate(217.50 378.80) scale(0.09174 0.1)" font-size="64.1" fill="#111" stroke="#111" stroke-width="1.3">100 nM Exendin</text>
<line x1="218.50" y1="382.20" x2="304.20" y2="382.20" stroke="#000" stroke-width="1.4"/>
<path d="M309.00,382.20 L304.20,384.80 L304.20,379.60Z" fill="#000"/>
<text transform="translate(1.00 378.50) scale(0.09169 0.1)" font-size="62.9" fill="#111" stroke="#111" stroke-width="1.3">Exp 3525-2</text>
<!-- Panel D -->
<text transform="translate(385.70 222.90) scale(0.09314 0.1)" font-size="168.0" fill="#111" font-weight="bold" stroke="#000" stroke-width="3.5">D</text>
<text transform="translate(474.50 219.20) scale(0.09367 0.1)" font-size="102.0" fill="#111" stroke="#111" stroke-width="1.3">Human atrium</text>
<text transform="translate(445.20 239.20) scale(0.10221 0.1)" font-size="59.0" fill="#111" stroke="#111" stroke-width="1.3">10 min</text>
<line x1="442.00" y1="243.00" x2="464.70" y2="243.00" stroke="#000" stroke-width="1.4"/>
<path d="M469.50,243.00 L464.70,245.60 L464.70,240.40Z" fill="#000"/>
<g><line x1="441.96" y1="248.2" x2="441.96" y2="318.7" stroke="#e0fcfc" stroke-width="0.5"/><line x1="445.15" y1="248.2" x2="445.15" y2="318.7" stroke="#e0fcfc" stroke-width="0.5"/><line x1="448.33" y1="248.2" x2="448.33" y2="318.7" stroke="#e0fcfc" stroke-width="0.5"/><line x1="451.52" y1="248.2" x2="451.52" y2="318.7" stroke="#e0fcfc" stroke-width="0.5"/><line x1="454.70" y1="248.2" x2="454.70" y2="318.7" stroke="#c4f8fa" stroke-width="0.6"/><line x1="457.89" y1="248.2" x2="457.89" y2="318.7" stroke="#e0fcfc" stroke-width="0.5"/><line x1="461.08" y1="248.2" x2="461.08" y2="318.7" stroke="#e0fcfc" stroke-width="0.5"/><line x1="464.26" y1="248.2" x2="464.26" y2="318.7" stroke="#e0fcfc" stroke-width="0.5"/><line x1="467.45" y1="248.2" x2="467.45" y2="318.7" stroke="#e0fcfc" stroke-width="0.5"/><line x1="470.63" y1="248.2" x2="470.63" y2="318.7" stroke="#c4f8fa" stroke-width="0.6"/><line x1="473.82" y1="248.2" x2="473.82" y2="318.7" stroke="#e0fcfc" stroke-width="0.5"/><line x1="477.01" y1="248.2" x2="477.01" y2="318.7" stroke="#e0fcfc" stroke-width="0.5"/><line x1="480.19" y1="248.2" x2="480.19" y2="318.7" stroke="#e0fcfc" stroke-width="0.5"/><line x1="483.38" y1="248.2" x2="483.38" y2="318.7" stroke="#e0fcfc" stroke-width="0.5"/><line x1="486.56" y1="248.2" x2="486.56" y2="318.7" stroke="#c4f8fa" stroke-width="0.6"/><line x1="489.75" y1="248.2" x2="489.75" y2="318.7" stroke="#e0fcfc" stroke-width="0.5"/><line x1="492.94" y1="248.2" x2="492.94" y2="318.7" stroke="#e0fcfc" stroke-width="0.5"/><line x1="496.12" y1="248.2" x2="496.12" y2="318.7" stroke="#e0fcfc" stroke-width="0.5"/><line x1="499.31" y1="248.2" x2="499.31" y2="318.7" stroke="#e0fcfc" stroke-width="0.5"/><line x1="502.49" y1="248.2" x2="502.49" y2="318.7" stroke="#c4f8fa" stroke-width="0.6"/><line x1="505.68" y1="248.2" x2="505.68" y2="318.7" stroke="#e0fcfc" stroke-width="0.5"/><line x1="508.87" y1="248.2" x2="508.87" y2="318.7" stroke="#e0fcfc" stroke-width="0.5"/><line x1="512.05" y1="248.2" x2="512.05" y2="318.7" stroke="#e0fcfc" stroke-width="0.5"/><line x1="515.24" y1="248.2" x2="515.24" y2="318.7" stroke="#e0fcfc" stroke-width="0.5"/><line x1="518.42" y1="248.2" x2="518.42" y2="318.7" stroke="#c4f8fa" stroke-width="0.6"/><line x1="521.61" y1="248.2" x2="521.61" y2="318.7" stroke="#e0fcfc" stroke-width="0.5"/><line x1="524.80" y1="248.2" x2="524.80" y2="318.7" stroke="#e0fcfc" stroke-width="0.5"/><line x1="527.98" y1="248.2" x2="527.98" y2="318.7" stroke="#e0fcfc" stroke-width="0.5"/><line x1="531.17" y1="248.2" x2="531.17" y2="318.7" stroke="#e0fcfc" stroke-width="0.5"/><line x1="534.35" y1="248.2" x2="534.35" y2="318.7" stroke="#c4f8fa" stroke-width="0.6"/><line x1="537.54" y1="248.2" x2="537.54" y2="318.7" stroke="#e0fcfc" stroke-width="0.5"/><line x1="540.73" y1="248.2" x2="540.73" y2="318.7" stroke="#e0fcfc" stroke-width="0.5"/><line x1="543.91" y1="248.2" x2="543.91" y2="318.7" stroke="#e0fcfc" stroke-width="0.5"/><line x1="547.10" y1="248.2" x2="547.10" y2="318.7" stroke="#e0fcfc" stroke-width="0.5"/><line x1="550.28" y1="248.2" x2="550.28" y2="318.7" stroke="#c4f8fa" stroke-width="0.6"/><line x1="553.47" y1="248.2" x2="553.47" y2="318.7" stroke="#e0fcfc" stroke-width="0.5"/><line x1="556.66" y1="248.2" x2="556.66" y2="318.7" stroke="#e0fcfc" stroke-width="0.5"/><line x1="559.84" y1="248.2" x2="559.84" y2="318.7" stroke="#e0fcfc" stroke-width="0.5"/><line x1="563.03" y1="248.2" x2="563.03" y2="318.7" stroke="#e0fcfc" stroke-width="0.5"/><line x1="566.21" y1="248.2" x2="566.21" y2="318.7" stroke="#c4f8fa" stroke-width="0.6"/><line x1="569.40" y1="248.2" x2="569.40" y2="318.7" stroke="#e0fcfc" stroke-width="0.5"/><line x1="572.59" y1="248.2" x2="572.59" y2="318.7" stroke="#e0fcfc" stroke-width="0.5"/><line x1="575.77" y1="248.2" x2="575.77" y2="318.7" stroke="#e0fcfc" stroke-width="0.5"/><line x1="578.96" y1="248.2" x2="578.96" y2="318.7" stroke="#e0fcfc" stroke-width="0.5"/><line x1="582.14" y1="248.2" x2="582.14" y2="318.7" stroke="#c4f8fa" stroke-width="0.6"/><line x1="585.33" y1="248.2" x2="585.33" y2="318.7" stroke="#e0fcfc" stroke-width="0.5"/><line x1="588.52" y1="248.2" x2="588.52" y2="318.7" stroke="#e0fcfc" stroke-width="0.5"/><line x1="591.70" y1="248.2" x2="591.70" y2="318.7" stroke="#e0fcfc" stroke-width="0.5"/><line x1="594.89" y1="248.2" x2="594.89" y2="318.7" stroke="#e0fcfc" stroke-width="0.5"/><line x1="598.07" y1="248.2" x2="598.07" y2="318.7" stroke="#c4f8fa" stroke-width="0.6"/><line x1="440.1" y1="248.20" x2="599" y2="248.20" stroke="#d6fafb" stroke-width="0.5"/><line x1="440.1" y1="254.55" x2="599" y2="254.55" stroke="#d6fafb" stroke-width="0.5"/><line x1="440.1" y1="260.90" x2="599" y2="260.90" stroke="#d6fafb" stroke-width="0.5"/><line x1="440.1" y1="267.25" x2="599" y2="267.25" stroke="#d6fafb" stroke-width="0.5"/><line x1="440.1" y1="273.60" x2="599" y2="273.60" stroke="#d6fafb" stroke-width="0.5"/><line x1="440.1" y1="279.95" x2="599" y2="279.95" stroke="#d6fafb" stroke-width="0.5"/><line x1="440.1" y1="286.30" x2="599" y2="286.30" stroke="#d6fafb" stroke-width="0.5"/><line x1="440.1" y1="292.65" x2="599" y2="292.65" stroke="#d6fafb" stroke-width="0.5"/><line x1="440.1" y1="299.00" x2="599" y2="299.00" stroke="#d6fafb" stroke-width="0.5"/><line x1="440.1" y1="305.35" x2="599" y2="305.35" stroke="#d6fafb" stroke-width="0.5"/><line x1="440.1" y1="311.70" x2="599" y2="311.70" stroke="#d6fafb" stroke-width="0.5"/><line x1="440.1" y1="318.05" x2="599" y2="318.05" stroke="#d6fafb" stroke-width="0.5"/><line x1="440.1" y1="248.2" x2="599" y2="248.2" stroke="#c4f8fa" stroke-width="0.8"/><line x1="440.1" y1="280.1" x2="599" y2="280.1" stroke="#c4f8fa" stroke-width="0.8"/></g>
<line x1="440.00" y1="312.60" x2="599.00" y2="312.60" stroke="#d4d4d4" stroke-width="1.0"/>
<path d="M440.00,299.00 C442.50,298.97 451.33,298.93 455.00,298.80 C458.67,298.67 459.83,298.58 462.00,298.20 C464.17,297.82 466.00,297.20 468.00,296.50 C470.00,295.80 472.00,294.67 474.00,294.00 C476.00,293.33 477.83,292.92 480.00,292.50 C482.17,292.08 485.17,292.00 487.00,291.50 C488.83,291.00 489.50,290.42 491.00,289.50 C492.50,288.58 494.17,287.12 496.00,286.00 C497.83,284.88 499.83,283.70 502.00,282.80 C504.17,281.90 506.53,281.10 509.00,280.60 C511.47,280.10 514.30,279.90 516.80,279.80 C519.30,279.70 520.72,279.72 524.00,280.00 C527.28,280.28 533.00,280.93 536.50,281.50 C540.00,282.07 541.97,282.73 545.00,283.40 C548.03,284.07 551.53,284.88 554.70,285.50 C557.87,286.12 560.95,286.62 564.00,287.10 C567.05,287.58 569.33,287.88 573.00,288.40 C576.67,288.92 581.67,289.60 586.00,290.20 C590.33,290.80 596.83,291.70 599.00,292.00 L599.0,305.8 L440.1,304.5Z" fill="#aa8000"/>
<line x1="575.80" y1="290.30" x2="575.80" y2="293.60" stroke="#8d8a78" stroke-width="0.5"/>
<line x1="423.90" y1="306.20" x2="423.90" y2="287.20" stroke="#000" stroke-width="1.6"/>
<path d="M423.90,282.40 L426.50,287.20 L421.30,287.20Z" fill="#000"/>
<text transform="translate(404.80 296.00) scale(0.09179 0.1)" font-size="61.7" fill="#111" stroke="#111" stroke-width="1.3">10</text>
<text transform="translate(404.80 304.00) scale(0.09171 0.1)" font-size="63.1" fill="#111" stroke="#111" stroke-width="1.3">mN</text>
<line x1="611.20" y1="307.50" x2="611.20" y2="253.80" stroke="#000" stroke-width="1.5"/>
<path d="M611.20,249.00 L613.80,253.80 L608.60,253.80Z" fill="#000"/>
<text transform="translate(605.30 285.50) rotate(-90) scale(0.09169 0.1)" font-size="64.8" fill="#111" stroke="#111" stroke-width="1.3">40 mN</text>
<g><line x1="631.60" y1="247.1" x2="631.60" y2="322" stroke="#a9f3f6" stroke-width="0.8"/><line x1="646.10" y1="247.1" x2="646.10" y2="322" stroke="#a9f3f6" stroke-width="0.8"/><line x1="660.60" y1="247.1" x2="660.60" y2="322" stroke="#a9f3f6" stroke-width="0.8"/><line x1="675.10" y1="247.1" x2="675.10" y2="322" stroke="#a9f3f6" stroke-width="0.8"/><line x1="618.2" y1="251.30" x2="681" y2="251.30" stroke="#a9f3f6" stroke-width="0.8"/><line x1="618.2" y1="266.35" x2="681" y2="266.35" stroke="#a9f3f6" stroke-width="0.8"/><line x1="618.2" y1="281.40" x2="681" y2="281.40" stroke="#a9f3f6" stroke-width="0.8"/><line x1="618.2" y1="296.45" x2="681" y2="296.45" stroke="#a9f3f6" stroke-width="0.8"/><line x1="618.2" y1="311.50" x2="681" y2="311.50" stroke="#a9f3f6" stroke-width="0.8"/></g>
<line x1="680.90" y1="247.00" x2="680.90" y2="316.00" stroke="#dcc388" stroke-width="1.0"/>
<line x1="680.90" y1="312.20" x2="684.00" y2="312.20" stroke="#c9a64e" stroke-width="1.0"/>
<path d="M618.2,306.0 L627.2,306.0 L627.6,298.0 L628.0,284.0 L628.5,271.4 L629.2,262.5 L629.9,257.3 L630.8,254.0 L631.9,252.3 L633.0,252.6 L634.3,254.1 L635.2,257.0 L636.1,260.4 L637.8,263.5 L639.8,265.9 L642.3,267.9 L645.3,269.5 L649.5,271.0 L654.7,272.2 L661.0,273.0 L680.8,273.0 L680.8,310.7 L636.0,310.7 L631.0,310.0 L627.2,309.1 L618.2,309.1Z" fill="#aa8000"/>
<line x1="433.00" y1="327.60" x2="595.20" y2="327.60" stroke="#000" stroke-width="1.5"/>
<path d="M600.00,327.60 L595.20,330.20 L595.20,325.00Z" fill="#000"/>
<line x1="623.30" y1="328.20" x2="672.70" y2="328.20" stroke="#000" stroke-width="1.5"/>
<path d="M677.50,328.20 L672.70,330.80 L672.70,325.60Z" fill="#000"/>
<text transform="translate(374.00 347.00) scale(0.09167 0.1)" font-size="64.8" fill="#111" stroke="#111" stroke-width="1.3">100 nM Cilostamide</text>
<line x1="460.90" y1="349.30" x2="460.90" y2="340.40" stroke="#000" stroke-width="1.6"/>
<path d="M460.90,335.80 L463.50,340.40 L458.30,340.40Z" fill="#000"/>
<line x1="475.70" y1="349.30" x2="475.70" y2="340.40" stroke="#000" stroke-width="1.6"/>
<path d="M475.70,335.80 L478.30,340.40 L473.10,340.40Z" fill="#000"/>
<line x1="491.50" y1="349.30" x2="491.50" y2="340.40" stroke="#000" stroke-width="1.6"/>
<path d="M491.50,335.80 L494.10,340.40 L488.90,340.40Z" fill="#000"/>
<line x1="460.50" y1="348.70" x2="595.20" y2="348.70" stroke="#000" stroke-width="1.5"/>
<path d="M600.00,348.70 L595.20,351.30 L595.20,346.10Z" fill="#000"/>
<text transform="translate(463.80 346.70) scale(0.09179 0.1)" font-size="61.7" fill="#111" stroke="#111" stroke-width="1.3">10</text>
<text transform="translate(479.50 346.40) scale(0.09179 0.1)" font-size="66.6" fill="#111" stroke="#111" stroke-width="1.3">30</text>
<text transform="translate(500.50 346.70) scale(0.09169 0.1)" font-size="62.1" fill="#111" stroke="#111" stroke-width="1.3">100</text>
<text transform="translate(520.50 345.70) scale(0.09179 0.1)" font-size="67.1" fill="#111" stroke="#111" stroke-width="1.3">Retatrutide (nM)</text>
<text transform="translate(628.30 345.70) scale(0.09178 0.1)" font-size="65.9" fill="#111" stroke="#111" stroke-width="1.3">1 µM Isoprenaline</text>
<text transform="translate(543.00 361.90) scale(0.09170 0.1)" font-size="63.2" fill="#111" stroke="#111" stroke-width="1.3">1 µM SC203972</text>
<line x1="540.50" y1="367.90" x2="595.20" y2="367.90" stroke="#000" stroke-width="1.6"/>
<path d="M600.00,367.90 L595.20,370.50 L595.20,365.30Z" fill="#000"/>
<text transform="translate(583.00 383.10) scale(0.09180 0.1)" font-size="62.7" fill="#111" stroke="#111" stroke-width="1.3">Wash</text>
<line x1="603.50" y1="381.70" x2="616.20" y2="381.70" stroke="#000" stroke-width="1.6"/>
<path d="M621.00,381.70 L616.20,384.30 L616.20,379.10Z" fill="#000"/>
<text transform="translate(365.70 378.70) scale(0.09174 0.1)" font-size="61.8" fill="#111" stroke="#111" stroke-width="1.3">Exp 6624-1</text>
<!-- Panel E -->
<text transform="translate(2.60 444.50) scale(0.08210 0.1)" font-size="168.0" fill="#111" font-weight="bold" stroke="#000" stroke-width="3.5">E</text>
<text transform="translate(110.40 443.40) scale(0.09367 0.1)" font-size="102.0" fill="#111" stroke="#111" stroke-width="1.3">Human atrium</text>
<text transform="translate(80.00 463.80) scale(0.10334 0.1)" font-size="59.0" fill="#111" stroke="#111" stroke-width="1.3">10 min</text>
<line x1="79.50" y1="469.40" x2="111.40" y2="469.40" stroke="#000" stroke-width="1.6"/>
<path d="M116.20,469.40 L111.40,472.00 L111.40,466.80Z" fill="#000"/>
<g><line x1="90.94" y1="478" x2="90.94" y2="525.5" stroke="#e3fcfc" stroke-width="0.55"/><line x1="95.76" y1="478" x2="95.76" y2="525.5" stroke="#e3fcfc" stroke-width="0.55"/><line x1="100.58" y1="478" x2="100.58" y2="525.5" stroke="#e3fcfc" stroke-width="0.55"/><line x1="105.40" y1="478" x2="105.40" y2="525.5" stroke="#bdf6f8" stroke-width="0.8"/><line x1="110.22" y1="478" x2="110.22" y2="525.5" stroke="#e3fcfc" stroke-width="0.55"/><line x1="115.04" y1="478" x2="115.04" y2="525.5" stroke="#e3fcfc" stroke-width="0.55"/><line x1="119.86" y1="478" x2="119.86" y2="525.5" stroke="#e3fcfc" stroke-width="0.55"/><line x1="124.68" y1="478" x2="124.68" y2="525.5" stroke="#e3fcfc" stroke-width="0.55"/><line x1="129.50" y1="478" x2="129.50" y2="525.5" stroke="#bdf6f8" stroke-width="0.8"/><line x1="134.32" y1="478" x2="134.32" y2="525.5" stroke="#e3fcfc" stroke-width="0.55"/><line x1="139.14" y1="478" x2="139.14" y2="525.5" stroke="#e3fcfc" stroke-width="0.55"/><line x1="143.96" y1="478" x2="143.96" y2="525.5" stroke="#e3fcfc" stroke-width="0.55"/><line x1="148.78" y1="478" x2="148.78" y2="525.5" stroke="#e3fcfc" stroke-width="0.55"/><line x1="153.60" y1="478" x2="153.60" y2="525.5" stroke="#bdf6f8" stroke-width="0.8"/><line x1="158.42" y1="478" x2="158.42" y2="525.5" stroke="#e3fcfc" stroke-width="0.55"/><line x1="163.24" y1="478" x2="163.24" y2="525.5" stroke="#e3fcfc" stroke-width="0.55"/><line x1="168.06" y1="478" x2="168.06" y2="525.5" stroke="#e3fcfc" stroke-width="0.55"/><line x1="172.88" y1="478" x2="172.88" y2="525.5" stroke="#e3fcfc" stroke-width="0.55"/><line x1="177.70" y1="478" x2="177.70" y2="525.5" stroke="#bdf6f8" stroke-width="0.8"/><line x1="182.52" y1="478" x2="182.52" y2="525.5" stroke="#e3fcfc" stroke-width="0.55"/><line x1="187.34" y1="478" x2="187.34" y2="525.5" stroke="#e3fcfc" stroke-width="0.55"/><line x1="192.16" y1="478" x2="192.16" y2="525.5" stroke="#e3fcfc" stroke-width="0.55"/><line x1="196.98" y1="478" x2="196.98" y2="525.5" stroke="#e3fcfc" stroke-width="0.55"/><line x1="201.80" y1="478" x2="201.80" y2="525.5" stroke="#bdf6f8" stroke-width="0.8"/><line x1="206.62" y1="478" x2="206.62" y2="525.5" stroke="#e3fcfc" stroke-width="0.55"/><line x1="211.44" y1="478" x2="211.44" y2="525.5" stroke="#e3fcfc" stroke-width="0.55"/><line x1="216.26" y1="478" x2="216.26" y2="525.5" stroke="#e3fcfc" stroke-width="0.55"/><line x1="221.08" y1="478" x2="221.08" y2="525.5" stroke="#e3fcfc" stroke-width="0.55"/><line x1="225.90" y1="478" x2="225.90" y2="525.5" stroke="#bdf6f8" stroke-width="0.8"/><line x1="230.72" y1="478" x2="230.72" y2="525.5" stroke="#e3fcfc" stroke-width="0.55"/><line x1="235.54" y1="478" x2="235.54" y2="525.5" stroke="#e3fcfc" stroke-width="0.55"/><line x1="240.36" y1="478" x2="240.36" y2="525.5" stroke="#e3fcfc" stroke-width="0.55"/><line x1="245.18" y1="478" x2="245.18" y2="525.5" stroke="#e3fcfc" stroke-width="0.55"/><line x1="250.00" y1="478" x2="250.00" y2="525.5" stroke="#bdf6f8" stroke-width="0.8"/><line x1="254.82" y1="478" x2="254.82" y2="525.5" stroke="#e3fcfc" stroke-width="0.55"/><line x1="259.64" y1="478" x2="259.64" y2="525.5" stroke="#e3fcfc" stroke-width="0.55"/><line x1="90.5" y1="478.00" x2="261.2" y2="478.00" stroke="#e3fcfc" stroke-width="0.6"/><line x1="90.5" y1="481.60" x2="261.2" y2="481.60" stroke="#e3fcfc" stroke-width="0.6"/><line x1="90.5" y1="485.20" x2="261.2" y2="485.20" stroke="#e3fcfc" stroke-width="0.6"/><line x1="90.5" y1="488.80" x2="261.2" y2="488.80" stroke="#e3fcfc" stroke-width="0.6"/><line x1="90.5" y1="492.40" x2="261.2" y2="492.40" stroke="#e3fcfc" stroke-width="0.6"/><line x1="90.5" y1="496.00" x2="261.2" y2="496.00" stroke="#e3fcfc" stroke-width="0.6"/><line x1="90.5" y1="499.60" x2="261.2" y2="499.60" stroke="#e3fcfc" stroke-width="0.6"/><line x1="90.5" y1="503.20" x2="261.2" y2="503.20" stroke="#e3fcfc" stroke-width="0.6"/><line x1="90.5" y1="506.80" x2="261.2" y2="506.80" stroke="#e3fcfc" stroke-width="0.6"/><line x1="90.5" y1="510.40" x2="261.2" y2="510.40" stroke="#e3fcfc" stroke-width="0.6"/><line x1="90.5" y1="514.00" x2="261.2" y2="514.00" stroke="#e3fcfc" stroke-width="0.6"/><line x1="90.5" y1="517.60" x2="261.2" y2="517.60" stroke="#e3fcfc" stroke-width="0.6"/><line x1="90.5" y1="521.20" x2="261.2" y2="521.20" stroke="#e3fcfc" stroke-width="0.6"/><line x1="90.5" y1="524.80" x2="261.2" y2="524.80" stroke="#e3fcfc" stroke-width="0.6"/></g>
<line x1="90.50" y1="515.30" x2="261.20" y2="515.30" stroke="#d2d2d2" stroke-width="0.8"/>
<path d="M90.50,498.50 C91.75,498.48 95.75,498.53 98.00,498.40 C100.25,498.27 102.17,498.03 104.00,497.70 C105.83,497.37 107.30,496.88 109.00,496.40 C110.70,495.92 110.90,495.67 114.20,494.80 C117.50,493.93 124.50,492.23 128.80,491.20 C133.10,490.17 137.57,489.22 140.00,488.60 C142.43,487.98 141.35,487.98 143.40,487.50 C145.45,487.02 149.53,486.23 152.30,485.70 C155.07,485.17 157.28,484.70 160.00,484.30 C162.72,483.90 165.60,483.65 168.60,483.30 C171.60,482.95 174.60,482.52 178.00,482.20 C181.40,481.88 185.33,481.50 189.00,481.40 C192.67,481.30 196.25,481.50 200.00,481.60 C203.75,481.70 206.50,481.77 211.50,482.00 C216.50,482.23 224.88,482.77 230.00,483.00 C235.12,483.23 239.97,483.15 242.20,483.40 C244.43,483.65 243.00,484.17 243.40,484.50 C243.80,484.83 243.83,485.35 244.60,485.40 C245.37,485.45 246.87,484.97 248.00,484.80 C249.13,484.63 250.07,484.33 251.40,484.40 C252.73,484.47 254.37,484.97 256.00,485.20 C257.63,485.43 260.33,485.70 261.20,485.80 L261.2,512.6 L150.0,511.9 L90.5,511.6Z" fill="#d50000"/>
<line x1="211.50" y1="477.80" x2="211.50" y2="515.00" stroke="#6e2020" stroke-width="0.55"/>
<text transform="translate(36.60 501.10) scale(0.09170 0.1)" font-size="63.9" fill="#111" stroke="#111" stroke-width="1.3">8 mN</text>
<line x1="61.00" y1="509.30" x2="61.00" y2="490.30" stroke="#000" stroke-width="1.6"/>
<path d="M61.00,485.50 L63.60,490.30 L58.40,490.30Z" fill="#000"/>
<text transform="translate(8.80 552.90) scale(0.09167 0.1)" font-size="64.8" fill="#111" stroke="#111" stroke-width="1.3">100 nM Cilostamide</text>
<line x1="68.00" y1="552.00" x2="258.20" y2="550.83" stroke="#000" stroke-width="1.5"/>
<path d="M263.00,550.80 L258.22,553.43 L258.18,548.23Z" fill="#000"/>
<line x1="96.00" y1="574.00" x2="96.00" y2="566.00" stroke="#000" stroke-width="1.7"/>
<path d="M96.00,561.00 L98.90,566.00 L93.10,566.00Z" fill="#000"/>
<line x1="95.20" y1="573.70" x2="258.20" y2="571.17" stroke="#000" stroke-width="1.5"/>
<path d="M263.00,571.10 L258.24,573.77 L258.16,568.57Z" fill="#000"/>
<text transform="translate(129.00 571.80) scale(0.09178 0.1)" font-size="68.6" fill="#111" stroke="#111" stroke-width="1.3">100 nM</text>
<text transform="translate(154.50 571.20) scale(0.09180 0.1)" font-size="68.6" fill="#111" stroke="#111" stroke-width="1.3">Retatrutide (nM)</text>
<text transform="translate(211.00 586.90) scale(0.09167 0.1)" font-size="64.1" fill="#111" stroke="#111" stroke-width="1.3">100 nM ProGIP</text>
<line x1="211.00" y1="592.60" x2="256.20" y2="593.23" stroke="#000" stroke-width="1.6"/>
<path d="M261.00,593.30 L256.16,595.83 L256.24,590.63Z" fill="#000"/>
<text transform="translate(0.70 603.20) scale(0.09169 0.1)" font-size="62.9" fill="#111" stroke="#111" stroke-width="1.3">Exp 2425-1</text>
</svg></body></html>
